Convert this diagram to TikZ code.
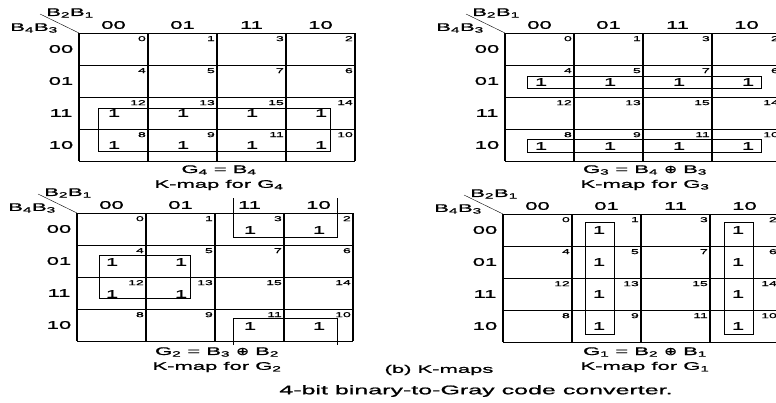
\documentclass[tikz,border=0pt]{standalone}
\usepackage{fontspec}
\setmainfont{Liberation Sans}
\newfontfamily\mapfont[FakeStretch=2, FakeBold=1.2]{Liberation Sans}
\newfontfamily\mapsym[FakeStretch=1.4, FakeBold=1.2]{DejaVu Sans}
\usepackage{tikz}

\begin{document}
\begin{tikzpicture}[x=1pt, y=-1pt,
      lbl/.style={font=\mapfont\fontsize{11}{12}\selectfont, inner sep=0pt},
      cellno/.style={font=\mapfont\fontsize{7}{7}\selectfont, inner sep=0pt, anchor=north east},
      one/.style={font=\mapfont\fontsize{11}{12}\selectfont, inner sep=0pt},
      vline/.style={line width=1.5pt},
      hline/.style={line width=0.8pt},
      grp/.style={line width=0.9pt}]
    \useasboundingbox (0,0) rectangle (776,402);
    \clip (0,0) rectangle (776,402);

    % the four grids with their headings and cell numbers
    \foreach \gx/\gy/\m in {79/33/a, 505/33/b, 77/213/c, 503/214/d} {
      \foreach \r in {0,...,4}
        \draw[hline] (\gx,\gy+32*\r) -- ++(276,0);
      \foreach \c in {0,...,4}
        \draw[vline] (\gx+69*\c,\gy) -- ++(0,128);
      \draw (\gx-39,\gy-19) -- (\gx,\gy);
      \node[lbl] (\m-top) at (\gx-9,\gy-20) {B\textsubscript{2}B\textsubscript{1}};
      \node[lbl] (\m-side) at (\gx-45,\gy-5) {B\textsubscript{4}B\textsubscript{3}};
      \foreach \v [count=\i from 0] in {00,01,11,10} {
        \node[lbl] (\m-c\i) at (\gx+34.5+69*\i,\gy-8) {\v};
        \node[lbl] (\m-r\i) at (\gx-18,\gy+16+32*\i) {\v};
      }
      \foreach \rv [count=\i from 0] in {0,1,3,2}
        \foreach \cv [count=\j from 0] in {0,1,3,2} {
          \pgfmathtruncatemacro\n{4*\rv+\cv}
          \node[cellno] (\m-n\n) at (\gx+69*\j+67,\gy+32*\i+3) {\n};
        }
    }

    % G4
    \foreach \i in {2,3}
      \foreach \j in {0,...,3}
        \node[one] (a-one\i\j) at (79+35+69*\j,33+16+32*\i) {1};
    \draw[grp] (98,108) rectangle (330,151);
    \node[lbl] (a-eq) at (219,170) {G\textsubscript{4} = B\textsubscript{4}};
    \node[lbl] (a-cap) at (219,185) {K-map for G\textsubscript{4}};

    % G3
    \foreach \i in {1,3}
      \foreach \j in {0,...,3}
        \node[one] (b-one\i\j) at (505+36+69*\j,33+17+32*\i) {1};
    \draw[grp] (527,76) rectangle (761,88);
    \draw[grp] (527,139) rectangle (761,152);
    \node[lbl] (b-eq) at (645,170) {G\textsubscript{3} = B\textsubscript{4} {\mapsym ⊕} B\textsubscript{3}};
    \node[lbl] (b-cap) at (645,185) {K-map for G\textsubscript{3}};

    % G2
    \foreach \i/\j in {1/0, 1/1, 2/0, 2/1, 0/2, 0/3, 3/2, 3/3}
      \node[one] (c-one\i\j) at (77+35+69*\j,213+17+32*\i) {1};
    \draw[grp] (99,255) rectangle (190,298);
    \draw[grp] (233,198) -- (233,237) -- (337,237) -- (337,198);
    \draw[grp] (233,345) -- (233,318) -- (337,318) -- (337,345);
    \node[lbl] (c-eq) at (217,352) {G\textsubscript{2} = B\textsubscript{3} {\mapsym ⊕} B\textsubscript{2}};
    \node[lbl] (c-cap) at (217,367) {K-map for G\textsubscript{2}};

    % G1
    \foreach \i in {0,...,3}
      \foreach \x [count=\j] in {599,738}
        \node[one] (d-one\i\j) at (\x,214+16+32*\i) {1};
    \draw[grp] (585,222) rectangle (614,334);
    \draw[grp] (724,222) rectangle (753,334);
    \node[lbl] (d-eq) at (645,352) {G\textsubscript{1} = B\textsubscript{2} {\mapsym ⊕} B\textsubscript{1}};
    \node[lbl] (d-cap) at (645,367) {K-map for G\textsubscript{1}};

    \node[lbl] (maps) at (439,370) {(b) K-maps};
    \node[lbl, font=\mapfont\fontsize{12.5}{13}\selectfont] (title) at (476,391) {4-bit binary-to-Gray code converter.};
  \end{tikzpicture}
\end{document}
